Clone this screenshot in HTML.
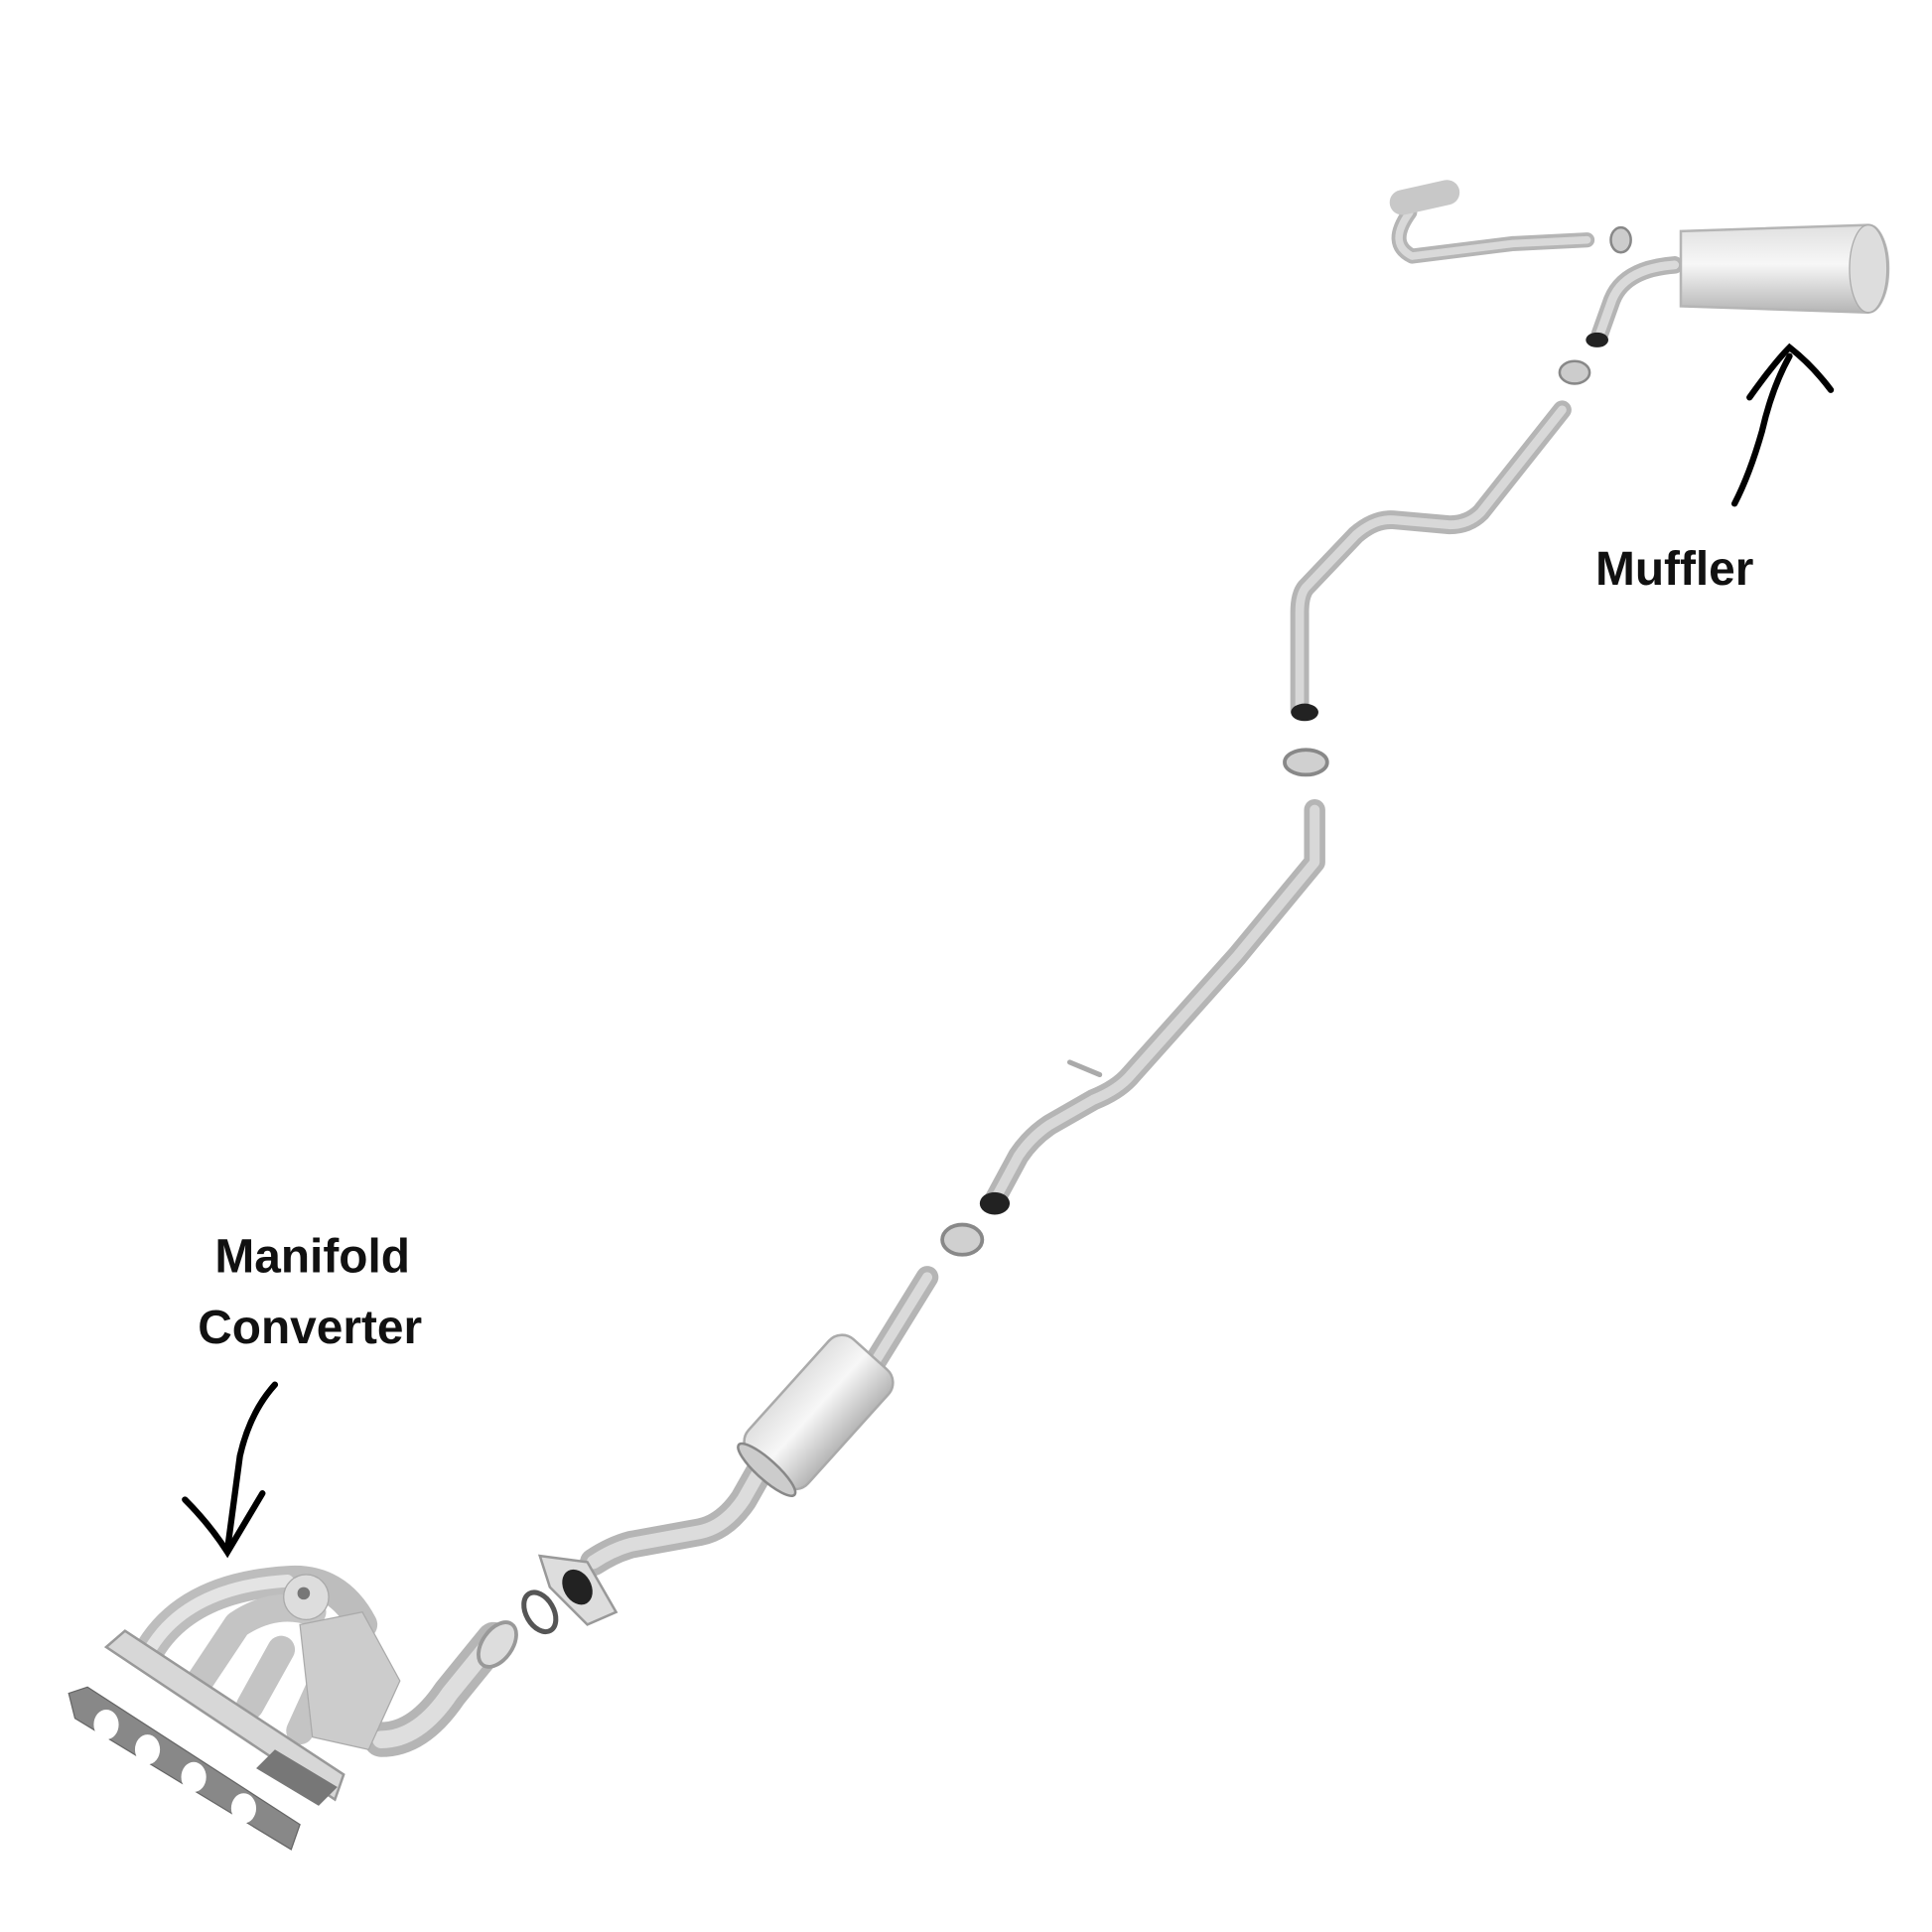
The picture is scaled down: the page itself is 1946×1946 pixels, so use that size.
<!DOCTYPE html>
<html><head><meta charset="utf-8"><style>
html,body{margin:0;padding:0;background:#fff;}
svg{display:block;}
text{font-family:"Liberation Sans",sans-serif;font-weight:bold;fill:#111;}
</style></head><body>
<svg width="1946" height="1946" viewBox="0 0 1546 1546" xmlns="http://www.w3.org/2000/svg">
<defs>
<linearGradient id="m" x1="0" y1="0" x2="0" y2="1">
<stop offset="0" stop-color="#e0e0e0"/><stop offset="0.45" stop-color="#f7f7f7"/><stop offset="1" stop-color="#b5b5b5"/></linearGradient>
</defs>
<rect width="1546" height="1546" fill="#fff"/>
<g fill="none" stroke-linecap="round" stroke-linejoin="round">
<!-- tailpipe -->
<path d="M1128 170 Q1110 195 1130 205 L1210 195 L1270 192" stroke="#b5b5b5" stroke-width="12"/>
<path d="M1128 170 Q1110 195 1130 205 L1210 195 L1270 192" stroke="#d9d9d9" stroke-width="6"/>
<path d="M1122 162 L1158 154" stroke="#c8c8c8" stroke-width="20"/>
<!-- muffler inlet -->
<path d="M1340 212 Q1300 215 1290 240 L1280 268" stroke="#b5b5b5" stroke-width="14"/>
<path d="M1340 212 Q1300 215 1290 240 L1280 268" stroke="#dadada" stroke-width="7"/>
<!-- pipe 2 -->
<path d="M1250 328 L1185 410 Q1175 420 1160 420 L1115 416 Q1100 415 1085 428 L1045 470 Q1040 476 1040 490 L1040 568" stroke="#b5b5b5" stroke-width="15"/>
<path d="M1250 328 L1185 410 Q1175 420 1160 420 L1115 416 Q1100 415 1085 428 L1045 470 Q1040 476 1040 490 L1040 568" stroke="#d8d8d8" stroke-width="7"/>
<!-- pipe 3 -->
<path d="M1052 648 L1052 690 L990 765 L905 860 Q895 872 875 880 L840 900 Q825 910 815 925 L795 962" stroke="#b5b5b5" stroke-width="17"/>
<path d="M1052 648 L1052 690 L990 765 L905 860 Q895 872 875 880 L840 900 Q825 910 815 925 L795 962" stroke="#d8d8d8" stroke-width="8"/>
<path d="M880 860 L856 850" stroke="#aaa" stroke-width="4"/>
<!-- cat front pipe -->
<path d="M742 1022 L700 1090" stroke="#b5b5b5" stroke-width="18"/>
<path d="M742 1022 L700 1090" stroke="#dadada" stroke-width="8"/>
<path d="M612 1170 L595 1200 Q580 1222 560 1226 L505 1236 Q490 1240 475 1250" stroke="#b5b5b5" stroke-width="22"/>
<path d="M612 1170 L595 1200 Q580 1222 560 1226 L505 1236 Q490 1240 475 1250" stroke="#dcdcdc" stroke-width="11"/>
<!-- manifold down pipe -->
<path d="M395 1312 L360 1355 Q335 1392 305 1392" stroke="#b5b5b5" stroke-width="28"/>
<path d="M395 1312 L360 1355 Q335 1392 305 1392" stroke="#dedede" stroke-width="14"/>
<!-- manifold runners -->
<path d="M120 1320 Q150 1270 230 1265 Q270 1262 290 1300" stroke="#bdbdbd" stroke-width="24"/>
<path d="M160 1345 L190 1300 Q220 1280 250 1290" stroke="#c4c4c4" stroke-width="22"/>
<path d="M200 1365 L225 1320" stroke="#c4c4c4" stroke-width="22"/>
<path d="M240 1385 L265 1330" stroke="#c4c4c4" stroke-width="22"/>
<path d="M120 1320 Q150 1270 230 1265" stroke="#e4e4e4" stroke-width="10"/>
</g>
<!-- muffler body -->
<path d="M1345 185 L1495 180 A16 35 0 0 1 1495 250 L1345 245 Z" fill="url(#m)" stroke="#b5b5b5" stroke-width="2"/>
<ellipse cx="1495" cy="215" rx="15" ry="35" fill="#ddd" stroke="#aaa"/>
<!-- clamps -->
<ellipse cx="1297" cy="192" rx="8" ry="10" fill="#ccc" stroke="#888" stroke-width="2"/>
<ellipse cx="1260" cy="298" rx="12" ry="9" fill="#ccc" stroke="#888" stroke-width="2"/>
<ellipse cx="1045" cy="610" rx="17" ry="10" fill="#d0d0d0" stroke="#888" stroke-width="3"/>
<ellipse cx="770" cy="992" rx="16" ry="12" fill="#d0d0d0" stroke="#888" stroke-width="3"/>
<!-- pipe ends -->
<ellipse cx="1278" cy="272" rx="9" ry="6" fill="#222"/>
<ellipse cx="1044" cy="570" rx="11" ry="7" fill="#222"/>
<ellipse cx="796" cy="963" rx="12" ry="9" fill="#222"/>
<!-- cat converter cylinder -->
<g transform="translate(655 1130) rotate(-48)">
<rect x="-62" y="-32" width="124" height="64" rx="14" fill="url(#m)" stroke="#aaa" stroke-width="2"/>
<ellipse cx="-62" cy="0" rx="8" ry="30" fill="#ccc" stroke="#888" stroke-width="2"/>
</g>
<!-- flange & ring -->
<path d="M432 1245 L470 1250 L493 1290 L470 1300 L440 1270 Z" fill="#ddd" stroke="#999" stroke-width="2"/>
<ellipse cx="462" cy="1270" rx="11" ry="15" fill="#222" transform="rotate(-30 462 1270)"/>
<ellipse cx="432" cy="1290" rx="11" ry="17" fill="none" stroke="#555" stroke-width="4" transform="rotate(-30 432 1290)"/>
<ellipse cx="398" cy="1316" rx="12" ry="20" fill="#ddd" stroke="#999" stroke-width="3" transform="rotate(35 398 1316)"/>
<!-- manifold flange & cat body -->
<path d="M240 1300 L290 1290 L320 1345 L295 1400 L250 1390 Z" fill="#ccc" stroke="#aaa"/>
<circle cx="245" cy="1278" r="18" fill="#ddd" stroke="#aaa"/>
<circle cx="243" cy="1275" r="5" fill="#777"/>
<path d="M85 1318 L100 1305 L275 1420 L268 1440 Z" fill="#d7d7d7" stroke="#999" stroke-width="2"/>
<path d="M205 1415 L220 1400 L270 1430 L255 1445 Z" fill="#777"/>
<!-- gasket -->
<path d="M55 1355 L70 1350 L240 1460 L233 1480 L60 1375 Z" fill="#888" stroke="#666"/>
<ellipse cx="85" cy="1380" rx="10" ry="12" fill="#fff"/>
<ellipse cx="118" cy="1400" rx="10" ry="12" fill="#fff"/>
<ellipse cx="155" cy="1422" rx="10" ry="12" fill="#fff"/>
<ellipse cx="195" cy="1447" rx="10" ry="12" fill="#fff"/>
<!-- labels -->
<text x="1340" y="468" font-size="38" text-anchor="middle">Muffler</text>
<text x="250" y="1018" font-size="38" text-anchor="middle">Manifold</text>
<text x="248" y="1075" font-size="38" text-anchor="middle">Converter</text>
<!-- arrows -->
<path d="M1388 403 Q1400 380 1410 345 Q1418 310 1432 285" fill="none" stroke="#000" stroke-width="5" stroke-linecap="round"/>
<path d="M1400 318 Q1420 290 1432 278 Q1450 292 1465 312" fill="none" stroke="#000" stroke-width="5" stroke-linecap="round"/>
<path d="M220 1108 Q200 1130 192 1165 Q186 1210 182 1240" fill="none" stroke="#000" stroke-width="5" stroke-linecap="round"/>
<path d="M148 1200 Q168 1220 182 1242 Q195 1220 210 1195" fill="none" stroke="#000" stroke-width="5" stroke-linecap="round"/>
</svg>
</body></html>
